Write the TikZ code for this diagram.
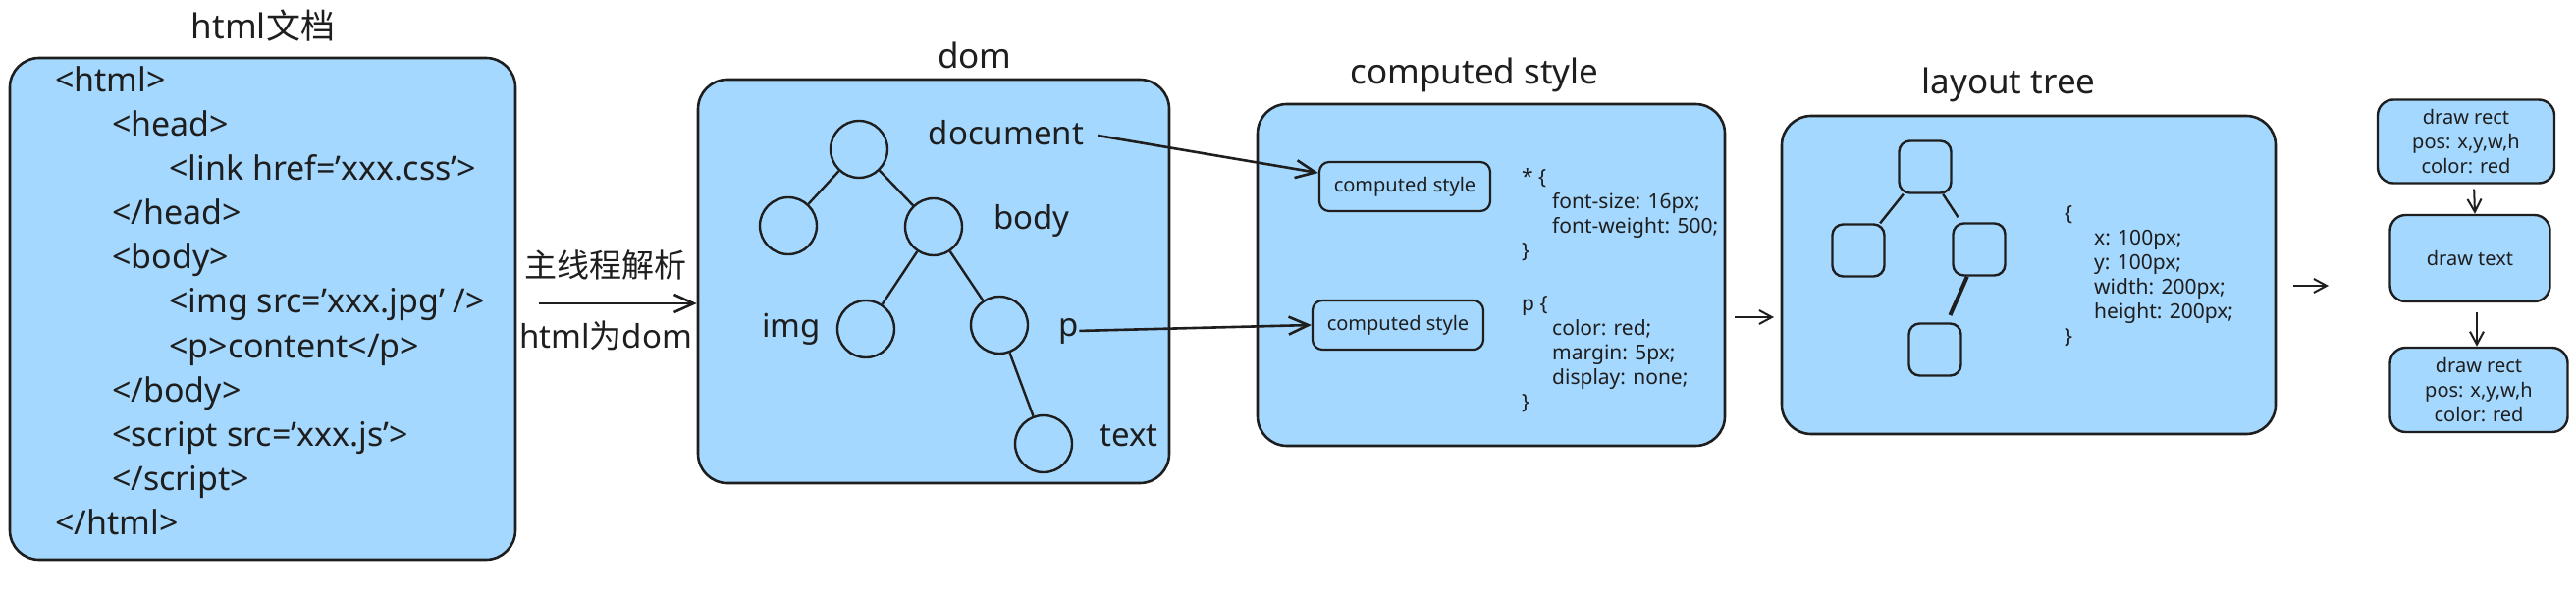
\documentclass[tikz,border=0pt]{standalone}
\usepackage{fontspec}
\setmainfont{Noto Sans}
\newfontfamily\cjk{Noto Sans CJK SC}
\usepackage{tikz}
\usetikzlibrary{arrows.meta}
\definecolor{panelblue}{HTML}{A5D8FF}
\definecolor{ink}{HTML}{1E1E1E}

\begin{document}
\begin{tikzpicture}[x=1pt,y=1pt,
  every node/.style={text=ink},
  panel/.style={draw=ink,fill=panelblue,line width=2.6pt,rounded corners=30pt,inner sep=0pt},
  ptitle/.style={anchor=base,font=\fontsize{35}{40}\selectfont,inner sep=0pt},
  codeline/.style={anchor=base west,font=\fontsize{34}{40}\selectfont,inner sep=0pt},
  cnlabel/.style={font=\fontsize{33}{40}\selectfont,inner sep=0pt},
  dnode/.style={draw=ink,circle,line width=2.4pt,minimum size=58pt,inner sep=0pt},
  dlabel/.style={anchor=base,font=\fontsize{33}{40}\selectfont,inner sep=0pt},
  csbox/.style={draw=ink,rounded corners=10pt,line width=2.2pt,minimum width=174pt,minimum height=50pt,font=\fontsize{20}{24}\selectfont,inner sep=0pt},
  smallcode/.style={anchor=base west,align=left,font=\fontsize{21}{25}\selectfont,inner sep=0pt},
  sqnode/.style={draw=ink,rounded corners=11pt,line width=2.4pt,minimum size=53pt,inner sep=0pt},
  paint/.style={draw=ink,fill=panelblue,rounded corners=16pt,line width=2.4pt,align=center,font=\fontsize{20}{25}\selectfont,inner sep=0pt},
  edge/.style={draw=ink,line width=2.4pt},
  arr/.style={draw=ink,line width=2.6pt,-{Straight Barb[length=20pt,width=18pt]}},
  smallarr/.style={draw=ink,line width=2pt,-{Straight Barb[length=13pt,width=14pt]}}]
\useasboundingbox (0,0) rectangle (2624,-612);
% html document
\node[panel,minimum width=515pt,minimum height=511pt] (html) at (267.5,-314.5) {};
\node[ptitle] (htmltitle) at (268,-40) {html{\cjk 文档}};
\node[codeline] (l1) at (56,-94) {<html>};
\node[codeline] (l2) at (114,-139) {<head>};
\node[codeline] (l3) at (172,-184) {<link href='xxx.css'>};
\node[codeline] (l4) at (114,-229) {</head>};
\node[codeline] (l5) at (114,-274) {<body>};
\node[codeline] (l6) at (172,-319) {<img src='xxx.jpg' />};
\node[codeline] (l7) at (172,-364) {<p>content</p>};
\node[codeline] (l8) at (114,-409) {</body>};
\node[codeline] (l9) at (114,-454) {<script src='xxx.js'>};
\node[codeline] (l10) at (114,-499) {</script>};
\node[codeline] (l11) at (56,-544) {</html>};
% parse arrow
\node[cnlabel] (parse) at (617,-270) {\cjk 主线程解析};
\node[cnlabel] (todom) at (617,-342) {html{\cjk 为}dom};
% dom tree
\node[panel,minimum width=480pt,minimum height=411pt] (dom) at (951,-286.5) {};
\node[ptitle] (domtitle) at (993,-70) {dom};
\coordinate (pstart) at (549,-309);
\draw[arr] (pstart) -- (pstart -| dom.west);
\node[dnode] (ndoc) at (875,-152) {};
\node[dnode] (nleft) at (803,-230) {};
\node[dnode] (nbody) at (951,-231) {};
\node[dnode] (nimg) at (882,-335) {};
\node[dnode] (np) at (1018,-331) {};
\node[dnode] (ntext) at (1063,-452) {};
\draw[edge] (ndoc) -- (nleft);
\draw[edge] (ndoc) -- (nbody);
\draw[edge] (nbody) -- (nimg);
\draw[edge] (nbody) -- (np);
\draw[edge] (np) -- (ntext);
\node[dlabel] (ldoc) at (1025,-148) {document};
\node[dlabel] (lbody) at (1051,-234) {body};
\node[dlabel] (limg) at (806,-343) {img};
\node[dlabel] (lp) at (1089,-342) {p};
\node[dlabel] (ltext) at (1150,-454) {text};
% computed style
\node[panel,minimum width=476pt,minimum height=348pt] (style) at (1519,-280) {};
\node[ptitle] (styletitle) at (1502,-86) {computed style};
\node[csbox] (cs1) at (1431,-190) {computed style};
\node[csbox] (cs2) at (1424,-331) {computed style};
\draw[arr,shorten <=14pt] (ldoc.east) -- (cs1.171);
\draw[arr] (lp.east) -- (cs2.west);
\node[smallcode] (rule1) at (1550,-263) {* \{\\\hspace*{31pt}font-size: 16px;\\\hspace*{31pt}font-weight: 500;\\\}};
\node[smallcode] (rule2) at (1550,-416) {p \{\\\hspace*{31pt}color: red;\\\hspace*{31pt}margin: 5px;\\\hspace*{31pt}display: none;\\\}};
\coordinate (s3) at (1767,-323);
\coordinate (e3) at (1807,-323);
\draw[smallarr] (s3) -- (e3);
% layout tree
\node[panel,minimum width=503pt,minimum height=324pt] (layout) at (2066.5,-280) {};
\node[ptitle] (layouttitle) at (2046,-96) {layout tree};
\node[sqnode] (sqtop) at (1961,-170) {};
\node[sqnode] (sqleft) at (1893,-255) {};
\node[sqnode] (sqright) at (2016,-254) {};
\node[sqnode] (sqbottom) at (1971,-356) {};
\draw[edge] (sqtop) -- (sqleft);
\draw[edge,shorten >=6pt] (sqtop) -- (sqright);
\draw[edge,line width=4pt,shorten >=8pt] (sqright) -- (sqbottom);
\node[smallcode] (geom) at (2103,-349) {\{\\\hspace*{30pt}x: 100px;\\\hspace*{30pt}y: 100px;\\\hspace*{30pt}width: 200px;\\\hspace*{30pt}height: 200px;\\\}};
\coordinate (s4) at (2336,-291);
\coordinate (e4) at (2372,-291);
\draw[smallarr] (s4) -- (e4);
% paint records
\node[paint,minimum width=180pt,minimum height=85pt] (rect1) at (2512,-144) {draw rect\\pos: x,y,w,h\\color: red};
\node[paint,minimum width=163pt,minimum height=88pt] (text1) at (2516,-263) {draw text};
\node[paint,minimum width=181pt,minimum height=86pt] (rect2) at (2525,-397) {draw rect\\pos: x,y,w,h\\color: red};
\draw[smallarr,shorten <=5pt] ([xshift=8pt]rect1.south) -- ([xshift=5pt]text1.north);
\draw[smallarr,shorten <=10pt] ([xshift=7pt]text1.south) -- ([xshift=-2pt]rect2.north);
\end{tikzpicture}
\end{document}
